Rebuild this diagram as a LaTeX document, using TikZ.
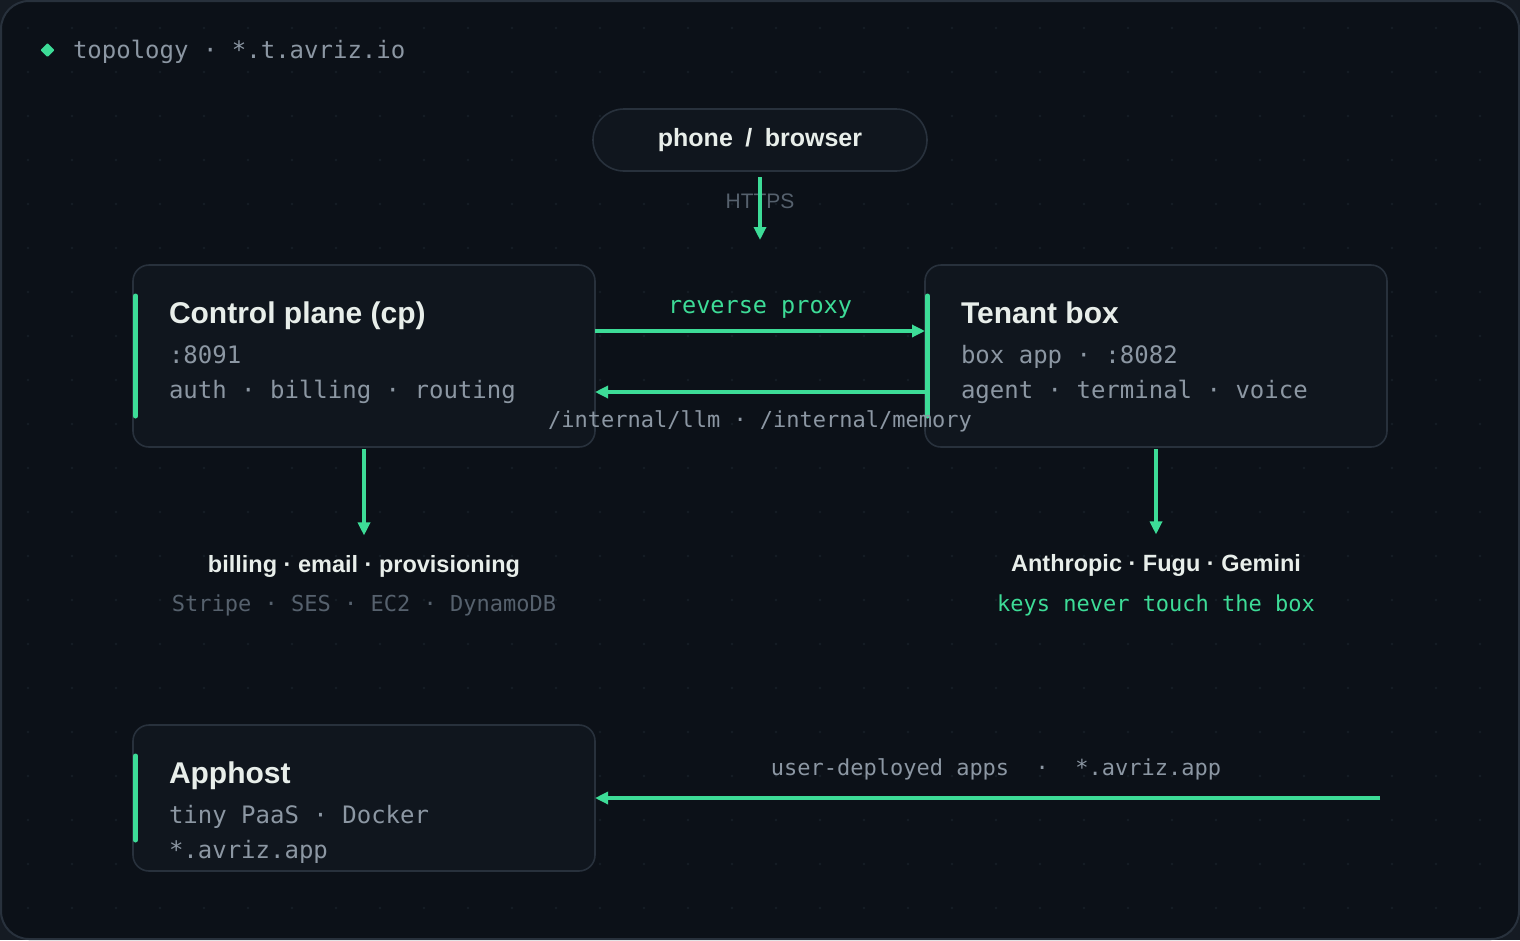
\documentclass[tikz,border=0pt]{standalone}
\usepackage{fontspec}
\setmainfont{Liberation Sans}
\setmonofont{DejaVu Sans Mono}
\usetikzlibrary{arrows.meta}

\definecolor{canvas}{HTML}{0C1118}
\definecolor{outside}{HTML}{151B23}
\definecolor{panel}{HTML}{10161E}
\definecolor{edge}{HTML}{28313C}
\definecolor{accent}{HTML}{3DDC97}
\definecolor{ink}{HTML}{E8EEEA}
\definecolor{muted}{HTML}{8C97A3}
\definecolor{dim}{HTML}{56616D}
\definecolor{dotc}{HTML}{161E26}

\begin{document}
\begin{tikzpicture}[
    x=1pt, y=-1pt,
    every node/.style={inner sep=0pt, outer sep=0pt},
    box/.style={draw=edge, line width=1.6pt, fill=panel, rounded corners=16pt,
                minimum width=462pt},
    pill/.style={draw=edge, line width=1.6pt, fill=panel, rounded corners=31pt,
                 minimum width=334pt, minimum height=62pt},
    head/.style={font=\bfseries\fontsize{30}{36}\selectfont, text=ink, anchor=base west},
    meta/.style={font=\ttfamily\fontsize{24}{28}\selectfont, text=muted, anchor=base west},
    svc/.style={font=\bfseries\fontsize{23.5}{28}\selectfont, text=ink, anchor=base},
    tag/.style={font=\ttfamily\fontsize{22}{26}\selectfont, anchor=base},
    flow/.style={-{Triangle[length=13pt, width=12pt]}, line width=3.2pt, draw=accent},
    bar/.style={line width=5pt, line cap=round, draw=accent},
]
\useasboundingbox (0,0) rectangle (1520,940);

% === Canvas ===
\fill[outside] (0,0) rectangle (1520,940);
\draw[edge, fill=canvas, line width=2pt, rounded corners=28pt] (1,1) rectangle (1519,939);
% dot grid
\foreach \i in {0,...,33}
  \foreach \j in {0,...,20}
    \fill[dotc] (28+44*\i, 28+44*\j) circle (1.3pt);

% === Heading ===
\fill[accent, rounded corners=1pt] (47.5,43) -- (54.5,50) -- (47.5,57) -- (40.5,50) -- cycle;
\node[meta] (heading) at (73,58) {topology · *.t.avriz.io};

% === Client ===
\node[pill, font=\bfseries\fontsize{25}{30}\selectfont, text=ink] (phone) at (760,140)
    {phone\enspace/\enspace browser};
\node[font=\fontsize{21}{25}\selectfont, text=dim, anchor=base] (https) at (760,208) {HTTPS};
\coordinate (entry) at (760,240);
\draw[flow] ([yshift=-6pt]phone.south) -- (entry);

% === Control plane ===
\node[box, minimum height=182pt] (cp) at (364,356) {};
\draw[bar] ([xshift=2.5pt, yshift=60pt]cp.west) -- ([xshift=2.5pt, yshift=-60pt]cp.west);
\node[head] (cptitle) at (169,323) {Control plane (cp)};
\node[meta] (cpport) at (169,363) {:8091};
\node[meta] (cproles) at (169,398) {auth · billing · routing};

% === Tenant box ===
\node[box, minimum height=182pt] (tenant) at (1156,356) {};
\node[head] (tbtitle) at (961,323) {Tenant box};
\node[meta] (tbport) at (961,363) {box app · :8082};
\node[meta] (tbroles) at (961,398) {agent · terminal · voice};

% === Proxy links ===
\node[tag, text=accent, font=\ttfamily\fontsize{23.5}{28}\selectfont] (proxy) at (760,313) {reverse proxy};
\draw[flow] ([yshift=25pt]cp.east) -- ([yshift=25pt]tenant.west);
\draw[flow] ([yshift=-36pt]tenant.west) -- ([yshift=-36pt]cp.east);
\draw[bar] ([xshift=2.5pt, yshift=60pt]tenant.west) -- ([xshift=2.5pt, yshift=-60pt]tenant.west);
\node[tag, text=muted] (internal) at (760,427) {/internal/llm · /internal/memory};

% === Outbound services ===
\node[svc] (cpsvc) at (364,572.5) {billing · email · provisioning};
\node[tag, text=dim] (cpvendors) at (364,611.5) {Stripe · SES · EC2 · DynamoDB};
\draw[flow] ([yshift=-2pt]cp.south) -- ([yshift=20pt]cpsvc.north);

\node[svc] (models) at (1156,571.5) {Anthropic · Fugu · Gemini};
\node[tag, text=accent] (keys) at (1156,611) {keys never touch the box};
\draw[flow] ([yshift=-2pt]tenant.south) -- ([yshift=20pt]models.north);

% === Apphost ===
\node[box, minimum height=146pt] (apphost) at (364,798) {};
\draw[bar] ([xshift=2.5pt, yshift=42pt]apphost.west) -- ([xshift=2.5pt, yshift=-42pt]apphost.west);
\node[head] (ahtitle) at (169,783) {Apphost};
\node[meta] (ahstack) at (169,823) {tiny PaaS · Docker};
\node[meta] (ahdomain) at (169,858) {*.avriz.app};

\coordinate (apps) at (1380,798);
\node[tag, text=muted] (appstag) at (996,775) {user-deployed apps\ \ ·\ \ *.avriz.app};
\draw[flow] (apps) -- (apphost.east);

\end{tikzpicture}
\end{document}
